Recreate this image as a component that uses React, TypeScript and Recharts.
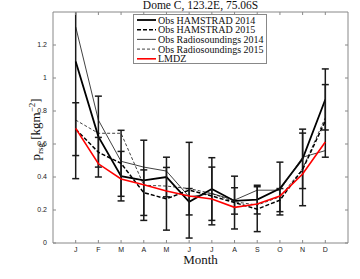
import { LineChart, Line, XAxis, YAxis, ErrorBar, Legend, Label } from "recharts";

// month letters along the x axis
const months = ["J", "F", "M", "A", "M", "J", "J", "A", "S", "O", "N", "D"];
const yTicks = [0, 0.2, 0.4, 0.6, 0.8, 1, 1.2];

// precipitable water, kg m-2
const ham2014 = [1.1, 0.645, 0.405, 0.38, 0.4, 0.25, 0.327, 0.255, 0.263, 0.33, 0.51, 0.87];
const ham2014Err = [0.71, 0.245, 0.15, 0.243, 0.12, 0.08, 0.19, 0.08, 0.087, 0.16, 0.18, 0.185];
const ham2015 = [0.69, 0.55, 0.483, 0.305, 0.268, 0.32, 0.285, 0.245, 0.205, 0.26, 0.446, 0.74];
const ham2015Err = [0.16, 0.09, 0.2, 0.138, 0.19, 0.29, 0.175, 0.16, 0.136, 0.07, 0.22, 0.22];
const radio2014 = [1.31, 0.745, 0.495, 0.46, 0.436, 0.28, 0.3, 0.26, 0.32, 0.32, 0.52, 0.56];
const radio2015 = [0.745, 0.665, 0.665, 0.35, 0.345, 0.33, 0.3, 0.25, 0.23, 0.28, 0.45, 0.76];
const lmdz = [0.695, 0.48, 0.388, 0.353, 0.315, 0.285, 0.267, 0.216, 0.236, 0.285, 0.418, 0.612];

const data = months.map((_, i) => ({
  m: i + 1,
  ham2014: ham2014[i],
  ham2014Err: ham2014Err[i],
  ham2015: ham2015[i],
  ham2015Err: ham2015Err[i],
  radio2014: radio2014[i],
  radio2015: radio2015[i],
  lmdz: lmdz[i],
}));

const series = [
  { key: "ham2014", name: "Obs HAMSTRAD 2014", color: "#000", width: 1.8, dash: undefined },
  { key: "ham2015", name: "Obs HAMSTRAD 2015", color: "#000", width: 1.5, dash: "4 2" },
  { key: "radio2014", name: "Obs Radiosoundings 2014", color: "#111", width: 0.8, dash: undefined },
  { key: "radio2015", name: "Obs Radiosoundings 2015", color: "#111", width: 0.8, dash: "3 2" },
  { key: "lmdz", name: "LMDZ", color: "#ff0000", width: 1.6, dash: undefined },
];

const serif = '"Liberation Serif", "DejaVu Serif", serif';
const sans = '"Liberation Sans", Arial, sans-serif';
const axisGrey = "#888";
const tickStyle = { fontSize: 7, fill: "#222", fontFamily: sans };
const xTicks = months.map((_, i) => i + 1);

// chart box: margins + axis sizes
const W = 360;
const H = 279;
const margin = { top: 8, right: 8, bottom: 10, left: 8 };
const leftW = 45;
const rightW = 4;
const topH = 4;
const bottomH = 26;

const LegendBox = () => (
  <svg width={134} height={50} style={{ display: "block" }}>
    <rect x={0.5} y={0.5} width={133} height={49} fill="#fff" stroke={axisGrey} />
    {series.map((s, i) => (
      <g key={s.key}>
        <line
          x1={4}
          x2={23}
          y1={6 + i * 9.7}
          y2={6 + i * 9.7}
          stroke={s.color}
          strokeWidth={s.width}
          strokeDasharray={s.dash}
        />
        <text x={25} y={9.5 + i * 9.7} fontSize={10} fontFamily={serif} fill="#111">
          {s.name}
        </text>
      </g>
    ))}
  </svg>
);

export default function App() {
  const plotX = margin.left + leftW;
  const plotY = margin.top + topH;
  const plotW = W - margin.left - margin.right - leftW - rightW;
  const plotH = H - margin.top - margin.bottom - topH - bottomH;
  return (
    <div style={{ position: "absolute", left: 0, top: 0, width: W, height: H, background: "#fff" }}>
      {/* error bars that run off the top get cut at the plot frame */}
      <style>{`.recharts-errorBar { clip-path: url(#plotClip); }`}</style>
      <svg width={0} height={0} style={{ position: "absolute" }}>
        <defs>
          <clipPath id="plotClip">
            <rect x={plotX} y={plotY} width={plotW} height={plotH} />
          </clipPath>
        </defs>
      </svg>
      <LineChart width={W} height={H} data={data} margin={margin}>
        <XAxis
          dataKey="m"
          type="number"
          domain={[0, 13]}
          ticks={xTicks}
          tickFormatter={(v: number) => months[v - 1]}
          height={bottomH}
          stroke={axisGrey}
          tickSize={-3}
          tickMargin={7}
          tick={tickStyle}
        >
          <Label
            content={({ viewBox }: any) => (
              <text
                x={viewBox.x + viewBox.width / 2}
                y={viewBox.y + 21}
                textAnchor="middle"
                fontSize={13}
                fontFamily={serif}
                fill="#111"
              >
                Month
              </text>
            )}
          />
        </XAxis>
        <XAxis
          xAxisId="top"
          orientation="top"
          dataKey="m"
          type="number"
          domain={[0, 13]}
          ticks={xTicks}
          tickFormatter={() => ""}
          height={topH}
          stroke={axisGrey}
          tickSize={-3}
        >
          <Label
            content={({ viewBox }: any) => (
              <text
                x={viewBox.x + viewBox.width / 2}
                y={viewBox.y + 1}
                textAnchor="middle"
                fontSize={11.5}
                fontFamily={serif}
                fill="#111"
              >
                Dome C, 123.2E, 75.06S
              </text>
            )}
          />
        </XAxis>
        <YAxis
          type="number"
          domain={[0, 1.4]}
          ticks={yTicks}
          allowDataOverflow
          width={leftW}
          stroke={axisGrey}
          tickSize={-3}
          tickMargin={9}
          tick={tickStyle}
        >
          <Label
            content={({ viewBox }: any) => {
              const cy = viewBox.y + viewBox.height / 2 + 2;
              return (
                <text
                  transform={`translate(40, ${cy}) rotate(-90)`}
                  textAnchor="middle"
                  fontSize={13}
                  fontFamily={serif}
                  fill="#111"
                >
                  p
                  <tspan fontSize={9} dy={3}>
                    rsg
                  </tspan>
                  <tspan dy={-3}> [kgm</tspan>
                  <tspan fontSize={9} dy={-5}>
                    −2
                  </tspan>
                  <tspan dy={5}>]</tspan>
                </text>
              );
            }}
          />
        </YAxis>
        <YAxis
          yAxisId="right"
          orientation="right"
          type="number"
          domain={[0, 1.4]}
          ticks={yTicks}
          allowDataOverflow
          width={rightW}
          stroke={axisGrey}
          tickSize={-3}
          tickFormatter={() => ""}
        />
        <Legend
          layout="vertical"
          align="center"
          verticalAlign="middle"
          wrapperStyle={{ top: 14, left: 133, width: 134, height: 50 }}
          content={() => <LegendBox />}
        />
        <Line
          dataKey="ham2014"
          stroke="#000"
          strokeWidth={1.8}
          dot={false}
          isAnimationActive={false}
        >
          <ErrorBar dataKey="ham2014Err" width={3.5} stroke="#1a1a1a" strokeWidth={1.5} />
        </Line>
        <Line
          dataKey="ham2015"
          stroke="#000"
          strokeWidth={1.5}
          strokeDasharray="4 2"
          dot={false}
          isAnimationActive={false}
        >
          <ErrorBar dataKey="ham2015Err" width={3.5} stroke="#1a1a1a" strokeWidth={1.5} />
        </Line>
        <Line dataKey="radio2014" stroke="#111" strokeWidth={0.8} dot={false} isAnimationActive={false} />
        <Line
          dataKey="radio2015"
          stroke="#111"
          strokeWidth={0.8}
          strokeDasharray="3 2"
          dot={false}
          isAnimationActive={false}
        />
        <Line dataKey="lmdz" stroke="#ff0000" strokeWidth={1.6} dot={false} isAnimationActive={false} />
      </LineChart>
    </div>
  );
}
